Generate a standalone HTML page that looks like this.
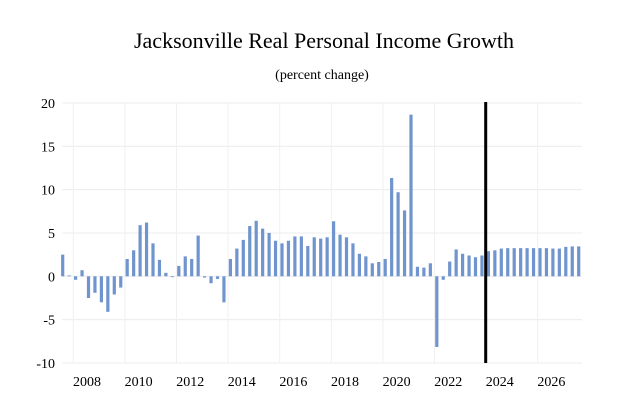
<!DOCTYPE html>
<html><head><meta charset="utf-8"><style>
body{margin:0;background:#fff;}
svg text{font-family:"Liberation Serif",serif;fill:#000;}
</style></head><body>
<svg width="627" height="413" viewBox="0 0 627 413">
<text x="324" y="48" text-anchor="middle" font-size="22">Jacksonville Real Personal Income Growth</text>
<text x="322" y="79" text-anchor="middle" font-size="14">(percent change)</text>
<g id="grid"></g><g id="yticks"></g><g id="xticks"></g><g id="bars"></g>
<line x1="485.7" y1="102" x2="485.7" y2="363" stroke="#000" stroke-width="3"/>
</svg>
<script>
const values=[2.5,0.1,-0.4,0.7,-2.5,-1.9,-3.0,-4.1,-2.1,-1.3,2.0,3.0,5.9,6.2,3.8,1.9,0.4,-0.1,1.2,2.3,2.0,4.7,-0.15,-0.8,-0.3,-3.0,2.0,3.2,4.2,5.8,6.4,5.5,5.0,4.1,3.8,4.1,4.6,4.6,3.5,4.5,4.35,4.5,6.35,4.8,4.5,3.8,2.6,2.3,1.5,1.65,2.0,11.35,9.7,7.6,18.65,1.1,1.0,1.5,-8.15,-0.4,1.7,3.1,2.6,2.4,2.2,2.4,2.9,3.0,3.2,3.25,3.25,3.25,3.25,3.25,3.25,3.25,3.2,3.2,3.4,3.45,3.45];
const yTicks=[20,15,10,5,0,-5,-10];
const xLabels=["2008","2010","2012","2014","2016","2018","2020","2022","2024","2026"];
const NS="http://www.w3.org/2000/svg";
const y=v=>276.3-v*8.667;
const x=i=>62.7+i*6.45;
function mk(t,a,p){const e=document.createElementNS(NS,t);for(const k in a)e.setAttribute(k,a[k]);document.getElementById(p).appendChild(e);return e;}
yTicks.forEach(v=>{
 const g=mk('line',{x1:62,x2:582,y1:y(v),y2:y(v),stroke:'#ececec','stroke-width':1},'grid');
 
 
 const t=mk('text',{x:55,y:y(v)+5,'text-anchor':'end','font-size':14},'yticks');
 t.textContent=v;
 
 
});
xLabels.forEach((s,k)=>{
 const gx=73.3+k*51.6;
 const g=mk('line',{x1:gx,x2:gx,y1:103,y2:363,stroke:'#f0f0f0','stroke-width':1},'grid');
 
 
 const t=mk('text',{x:87+k*51.6,y:386,'text-anchor':'middle','font-size':14},'xticks');
 t.textContent=s;
 
 
});
values.forEach((v,i)=>{
 const r=mk('rect',{x:x(i)-1.6,width:3.2,y:Math.min(y(v),y(0)),height:Math.max(Math.abs(y(v)-y(0)),0.8),fill:'#7094cd'},'bars');
 
 
});
</script>
</body></html>
